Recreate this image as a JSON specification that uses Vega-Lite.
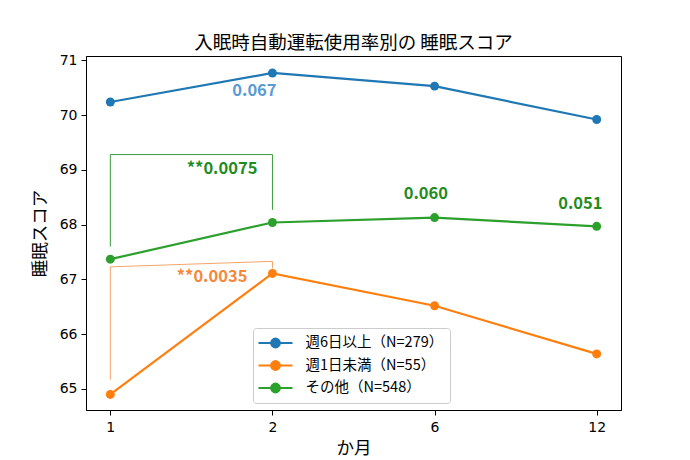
{
  "$schema": "https://vega.github.io/schema/vega-lite/v6.json",
  "width": 535,
  "height": 354,
  "autosize": {"type": "none"},
  "padding": {"left": 86, "top": 56, "right": 69, "bottom": 50},
  "background": "white",
  "title": {
    "text": "入眠時自動運転使用率別の 睡眠スコア",
    "font": "Noto Sans CJK JP",
    "fontSize": 18.5,
    "fontWeight": "normal",
    "color": "#000",
    "baseline": "bottom",
    "offset": 5,
    "dy": 23
  },
  "config": {
    "view": {"stroke": "#000", "strokeWidth": 1},
    "axis": {
      "grid": false,
      "domainColor": "#000",
      "tickColor": "#000",
      "tickSize": 5,
      "labelPadding": 4,
      "labelFont": "DejaVu Sans",
      "labelFontSize": 14,
      "labelColor": "#000",
      "titleFont": "Noto Sans CJK JP",
      "titleFontSize": 17.5,
      "titleFontWeight": "normal",
      "titleColor": "#000"
    }
  },
  "layer": [
    {
      "data": {
        "values": [
          {"series": "週6日以上（N=279）", "month": "1", "score": 70.24},
          {"series": "週6日以上（N=279）", "month": "2", "score": 70.77},
          {"series": "週6日以上（N=279）", "month": "6", "score": 70.53},
          {"series": "週6日以上（N=279）", "month": "12", "score": 69.92},
          {"series": "週1日未満（N=55）", "month": "1", "score": 64.90},
          {"series": "週1日未満（N=55）", "month": "2", "score": 67.11},
          {"series": "週1日未満（N=55）", "month": "6", "score": 66.52},
          {"series": "週1日未満（N=55）", "month": "12", "score": 65.64},
          {"series": "その他（N=548）", "month": "1", "score": 67.37},
          {"series": "その他（N=548）", "month": "2", "score": 68.04},
          {"series": "その他（N=548）", "month": "6", "score": 68.13},
          {"series": "その他（N=548）", "month": "12", "score": 67.97}
        ]
      },
      "mark": {"type": "line", "strokeWidth": 2.2, "point": {"filled": true, "size": 80, "opacity": 1}},
      "encoding": {
        "x": {
          "field": "month", "type": "ordinal", "sort": ["1", "2", "6", "12"],
          "scale": {"type": "point", "padding": 0.15},
          "axis": {"title": "か月", "labelAngle": 0, "labelPadding": 5, "titlePadding": 5}
        },
        "y": {
          "field": "score", "type": "quantitative",
          "scale": {"domain": [64.616, 71.08], "nice": false, "zero": false},
          "axis": {"title": "睡眠スコア", "values": [65, 66, 67, 68, 69, 70, 71], "titlePadding": 10}
        },
        "color": {
          "field": "series", "type": "nominal",
          "scale": {
            "domain": ["週6日以上（N=279）", "週1日未満（N=55）", "その他（N=548）"],
            "range": ["#1f77b4", "#ff7f0e", "#2ca02c"]
          },
          "legend": {
            "title": null,
            "orient": "none",
            "legendX": 167,
            "legendY": 272,
            "fillColor": "white",
            "strokeColor": "#cccccc",
            "cornerRadius": 3,
            "padding": 6,
            "labelFont": "Noto Sans CJK JP",
            "labelFontSize": 14.5,
            "labelColor": "#000",
            "symbolType": "M-2.125,0L2.125,0M0.55,0A0.55,0.55,0,1,1,-0.55,0A0.55,0.55,0,1,1,0.55,0Z",
            "symbolSize": 256,
            "symbolStrokeWidth": 2,
            "symbolOffset": 7.5,
            "labelOffset": 21,
            "rowPadding": 4.5,
            "encode": {
              "symbols": {
                "update": {
                  "fill": {"scale": "color", "field": "value"},
                  "stroke": {"scale": "color", "field": "value"},
                  "opacity": {"value": 1}
                }
              }
            }
          }
        }
      }
    },
    {
      "data": {
        "values": [
          {"seg": 1, "month": "1", "y": 67.60},
          {"seg": 2, "month": "1", "y": 69.28},
          {"seg": 3, "month": "2", "y": 69.28},
          {"seg": 4, "month": "2", "y": 68.27}
        ]
      },
      "mark": {"type": "line", "color": "#3a9a3a", "strokeWidth": 1},
      "encoding": {
        "x": {"field": "month", "type": "ordinal", "sort": ["1", "2", "6", "12"]},
        "y": {"field": "y", "type": "quantitative"},
        "order": {"field": "seg", "type": "quantitative"}
      }
    },
    {
      "data": {
        "values": [
          {"seg": 1, "month": "1", "y": 65.17},
          {"seg": 2, "month": "1", "y": 67.23},
          {"seg": 3, "month": "2", "y": 67.33},
          {"seg": 4, "month": "2", "y": 67.20}
        ]
      },
      "mark": {"type": "line", "color": "#f4a46a", "strokeWidth": 1},
      "encoding": {
        "x": {"field": "month", "type": "ordinal", "sort": ["1", "2", "6", "12"]},
        "y": {"field": "y", "type": "quantitative"},
        "order": {"field": "seg", "type": "quantitative"}
      }
    },
    {
      "data": {"values": [{"label": "0.067", "month": "2", "y": 70.45}]},
      "mark": {"type": "text", "color": "#5b9bd5", "font": "Noto Sans CJK JP", "fontWeight": "bold", "fontSize": 16.5, "dx": -18, "baseline": "middle", "align": "center"},
      "encoding": {
        "x": {"field": "month", "type": "ordinal", "sort": ["1", "2", "6", "12"]},
        "y": {"field": "y", "type": "quantitative"},
        "text": {"field": "label"}
      }
    },
    {
      "data": {
        "values": [
          {"label": "0.060", "month": "6", "y": 68.56, "shift": "a"},
          {"label": "0.051", "month": "12", "y": 68.38, "shift": "b"}
        ]
      },
      "mark": {"type": "text", "color": "#1f8c1f", "font": "Noto Sans CJK JP", "fontWeight": "bold", "fontSize": 16.5, "baseline": "middle", "align": "center"},
      "encoding": {
        "x": {"field": "month", "type": "ordinal", "sort": ["1", "2", "6", "12"]},
        "y": {"field": "y", "type": "quantitative"},
        "xOffset": {"field": "shift", "type": "nominal", "scale": {"domain": ["a", "b"], "range": [-5, -20]}},
        "text": {"field": "label"}
      }
    },
    {
      "data": {"values": [{"label": "**0.0075", "month": "2", "y": 69.02}]},
      "mark": {"type": "text", "color": "#1f8c1f", "font": "Noto Sans CJK JP", "fontWeight": "bold", "fontSize": 16.5, "dx": -15, "baseline": "middle", "align": "right"},
      "encoding": {
        "x": {"field": "month", "type": "ordinal", "sort": ["1", "2", "6", "12"]},
        "y": {"field": "y", "type": "quantitative"},
        "text": {"field": "label"}
      }
    },
    {
      "data": {"values": [{"label": "**0.0035", "month": "2", "y": 67.04}]},
      "mark": {"type": "text", "color": "#f5883a", "font": "Noto Sans CJK JP", "fontWeight": "bold", "fontSize": 16.5, "dx": -25, "baseline": "middle", "align": "right"},
      "encoding": {
        "x": {"field": "month", "type": "ordinal", "sort": ["1", "2", "6", "12"]},
        "y": {"field": "y", "type": "quantitative"},
        "text": {"field": "label"}
      }
    }
  ]
}
